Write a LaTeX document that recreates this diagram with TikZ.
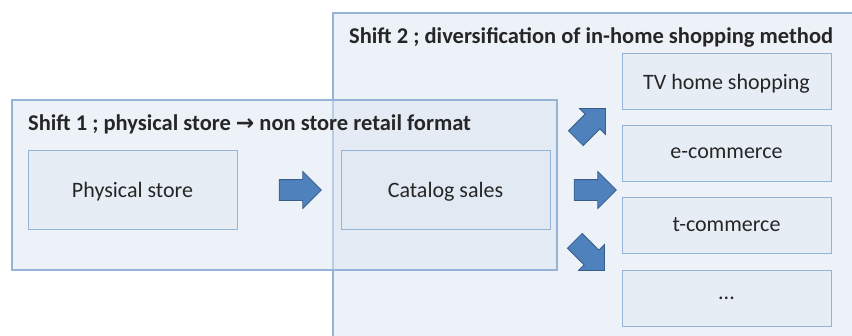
\documentclass[tikz,border=0pt]{standalone}
\usepackage{fontspec}
\setmainfont{Carlito}
\newfontfamily\symfont{DejaVu Sans}
\usetikzlibrary{shapes.arrows}
\definecolor{panelfill}{HTML}{DCE6F2}
\definecolor{panelline}{HTML}{95B3D7}
\definecolor{arrowfill}{HTML}{4F81BD}
\definecolor{arrowline}{HTML}{385D8A}
\definecolor{textcol}{HTML}{262626}
\tikzset{
  panel/.style={draw=panelline, line width=1.6pt, fill=panelfill, fill opacity=0.5},
  itembox/.style={draw=panelline, line width=0.9pt, fill=panelfill, fill opacity=0.35,
    text opacity=1, text=textcol, font=\fontsize{22}{26}\selectfont,
    minimum width=209pt, minimum height=56pt, inner sep=0pt, text depth=0pt},
  paneltitle/.style={anchor=west, text=textcol, font=\bfseries\fontsize{22.5}{26}\selectfont, inner sep=0pt},
  bigarrow/.style={single arrow, draw=arrowline, line width=0.8pt, fill=arrowfill,
    minimum height=42pt, minimum width=36pt, single arrow head extend=8pt,
    inner xsep=0pt, inner ysep=10pt}
}
\begin{document}
\begin{tikzpicture}[x=1pt, y=-1pt]
\useasboundingbox (0,0) rectangle (852,335);
\clip (0,0) rectangle (852,335);
\fill[white] (0,0) rectangle (852,335);
% Shift 2 panel
\draw[panel] (333,13) rectangle (880,360);
\node[paneltitle] (t2) at (349,37) {Shift 2 ; diversification of in-home shopping method};
% Shift 1 panel
\draw[panel] (12,100) rectangle (557,270);
\node[paneltitle] (t1) at (28,124) {Shift 1 ; physical store {\symfont\bfseries\fontsize{22}{24}\selectfont →} non store retail format};
% boxes
\node[itembox, minimum height=79pt] (ps) at (132.5,189.5) {Physical store};
\node[itembox, minimum height=79pt] (cs) at (445.5,189.5) {Catalog sales};
\node[itembox] (tv) at (726.5,81.5) {TV home shopping};
\node[itembox] (ec) at (726.5,153) {e-commerce};
\node[itembox] (tc) at (726.5,225) {t-commerce};
\node[itembox] (dd) at (726.5,298) {...};
% arrows
\node[bigarrow] (a1) at (295,190) {};
\node[bigarrow] (a2) at (590,190) {};
\node[bigarrow, rotate=45] (a3) at (587,127) {};
\node[bigarrow, rotate=-45] (a4) at (586,252) {};
\end{tikzpicture}
\end{document}
